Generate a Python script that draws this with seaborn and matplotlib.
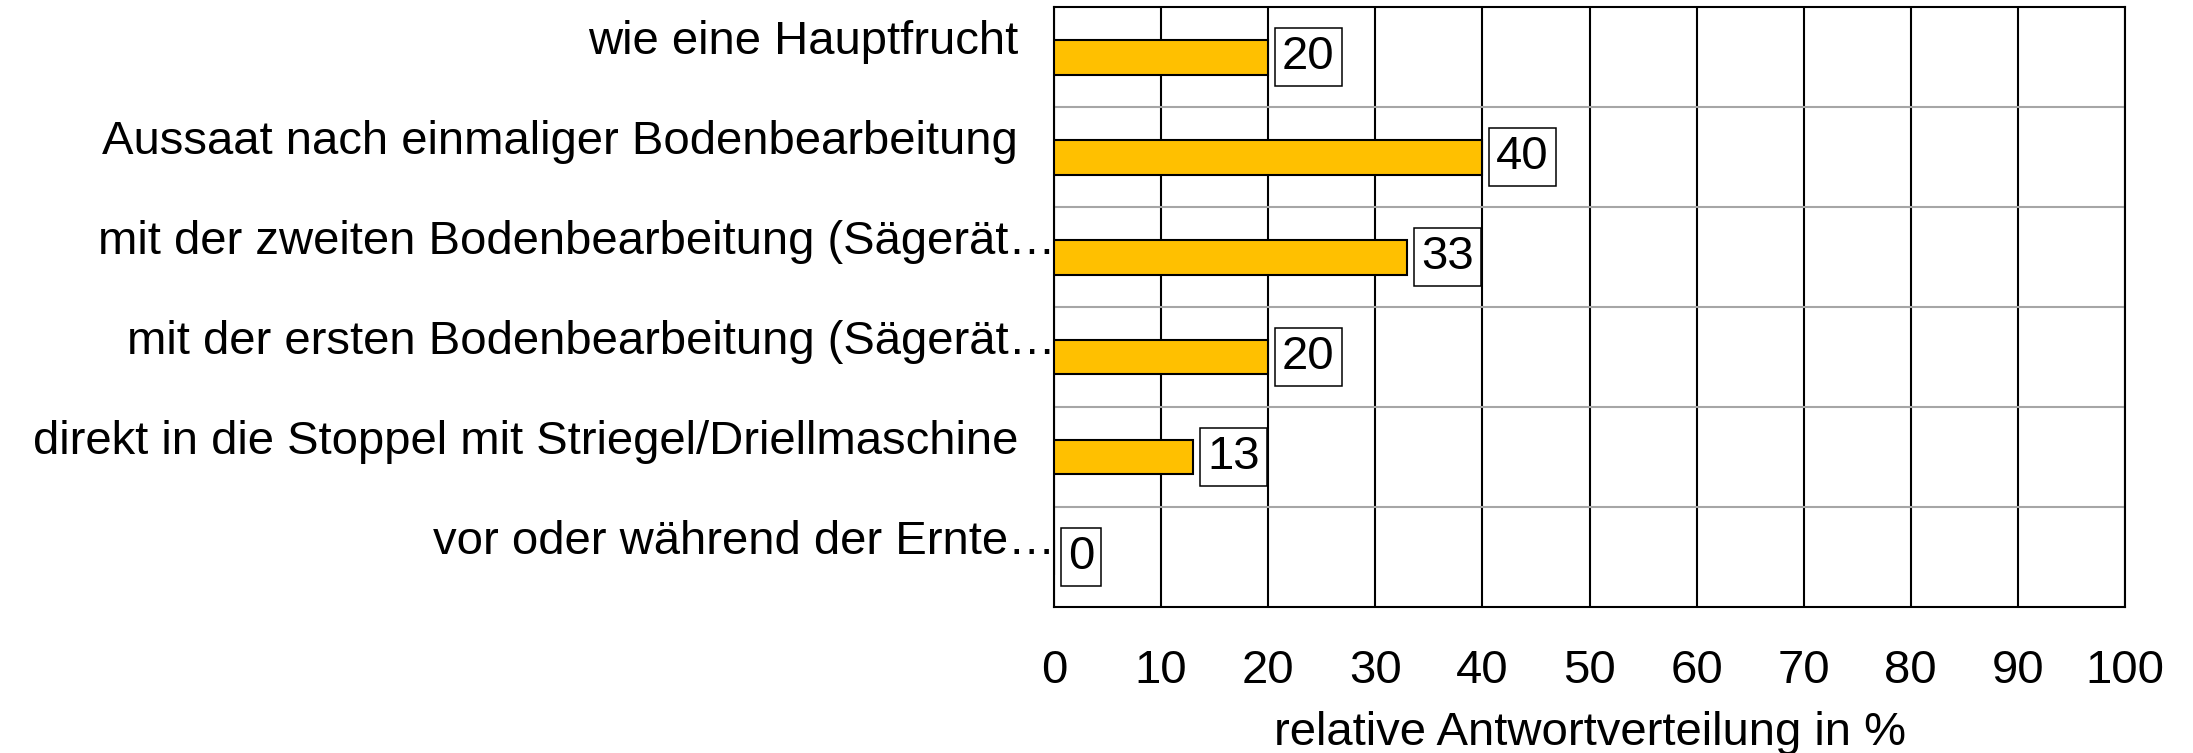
import numpy as np
import pandas as pd
import matplotlib
matplotlib.use("Agg")
import matplotlib.pyplot as plt
import matplotlib.transforms as mtrans
import seaborn as sns

# Daten
kategorien = [
    "wie eine Hauptfrucht",
    "Aussaat nach einmaliger Bodenbearbeitung",
    "mit der zweiten Bodenbearbeitung (Sägerät…",
    "mit der ersten Bodenbearbeitung (Sägerät…",
    "direkt in die Stoppel mit Striegel/Driellmaschine",
    "vor oder während der Ernte…",
]
werte = [20, 40, 33, 20, 13, 0]
x_ticks = list(range(0, 101, 10))
x_label = "relative Antwortverteilung in %"

sns.set_theme(style="white")
plt.rcParams['font.family'] = ['Liberation Sans', 'DejaVu Sans']
plt.rcParams['text.color'] = 'black'
plt.rcParams['axes.labelcolor'] = 'black'
plt.rcParams['xtick.color'] = 'black'
plt.rcParams['ytick.color'] = 'black'

fs = 34

fig = plt.figure(figsize=(21.93, 7.53), dpi=100)
ax = fig.add_axes([1054 / 2193, 1 - 607 / 753, (2125 - 1054) / 2193, 600 / 753])

df = pd.DataFrame({"Kategorie": kategorien, "Wert": werte})
sns.barplot(data=df, x="Wert", y="Kategorie", color="#FFC000", saturation=1,
            edgecolor="black", linewidth=1.5, width=0.35, ax=ax, zorder=3)

ax.set_xlim(0, 100)
ax.set_ylim(len(kategorien) - 0.5, -0.5)
ax.set_xticks(x_ticks)
ax.set_xlabel(x_label, fontsize=fs, labelpad=13)
ax.set_ylabel("")

# Gitter
ax.set_axisbelow(True)
ax.xaxis.grid(True, color="black", linewidth=1.5)
ax.set_yticks(np.arange(0.5, len(kategorien) - 0.5), minor=True)
ax.yaxis.grid(True, which="minor", color="#A6A6A6", linewidth=1.5)
ax.yaxis.grid(False, which="major")

for s in ax.spines.values():
    s.set_visible(True)
    s.set_color("black")
    s.set_linewidth(1.5)

ax.tick_params(axis="both", which="both", length=0, labelsize=fs)
ax.tick_params(axis="x", pad=30)

# Abstand je Kategorie, danach Beschriftungen etwas nach oben versetzen
for tick, name in zip(ax.yaxis.get_major_ticks(), kategorien):
    tick.set_pad(-1 if name.endswith("…") else 26)
offset = mtrans.ScaledTranslation(0, 0.2, fig.dpi_scale_trans)
for lab in ax.get_yticklabels():
    lab.set_transform(lab.get_transform() + offset)

# Werte in Kästchen
ax.bar_label(ax.containers[0], labels=[str(w) for w in werte], padding=10,
             fontsize=fs, color="black",
             bbox=dict(boxstyle="square,pad=0.15", fc="white", ec="black", lw=1.1))

plt.savefig("out.png", dpi=100)
plt.close()
